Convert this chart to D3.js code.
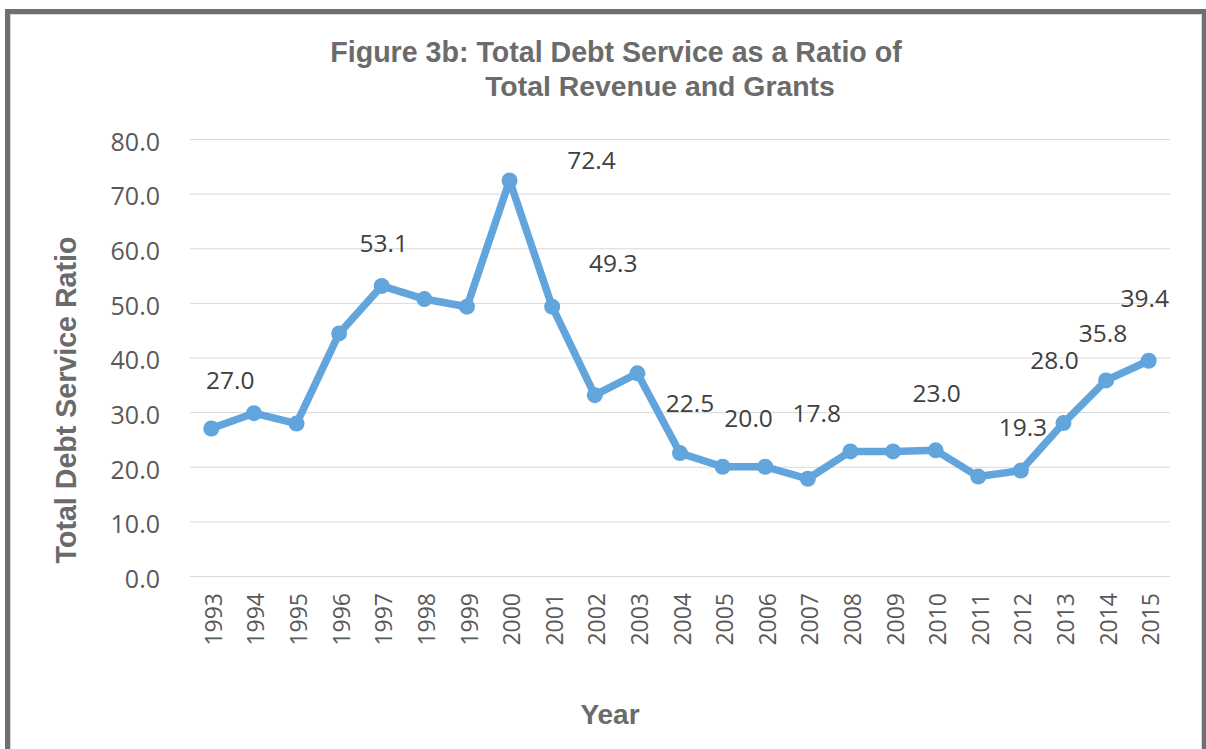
<!DOCTYPE html>
<html>
<head>
<meta charset="utf-8">
<script src="https://cdn.jsdelivr.net/npm/d3@7/dist/d3.min.js"></script>
<style>
  html, body { margin: 0; padding: 0; background: #fff; }
  svg { display: block; }
</style>
</head>
<body>
<svg id="chart" width="1206" height="749"></svg>
<script>
// ---- data ----
const years = ["1993","1994","1995","1996","1997","1998","1999","2000","2001","2002","2003","2004",
               "2005","2006","2007","2008","2009","2010","2011","2012","2013","2014","2015"];
const ratio = [27.0, 29.8, 27.9, 44.4, 53.1, 50.7, 49.3, 72.4, 49.3, 33.1, 37.1, 22.5,
               20.0, 20.0, 17.8, 22.8, 22.8, 23.0, 18.2, 19.3, 28.0, 35.8, 39.4];
const yTicks = [0, 10, 20, 30, 40, 50, 60, 70, 80];
const labelYears  = ["1993","1997","2000","2001","2004","2005","2007","2010","2012","2013","2014","2015"];
const labelValues = [27.0, 53.1, 72.4, 49.3, 22.5, 20.0, 17.8, 23.0, 19.3, 28.0, 35.8, 39.4];
const titleLines = ["Figure 3b: Total Debt Service as a Ratio of", "Total Revenue and Grants"];
const yTitle = "Total Debt Service Ratio";
const xTitle = "Year";

// ---- layout (label placement offsets, as in the original hand-moved labels) ----
const labelOffsets = {
  "1993": [19, -48], "1997": [2, -43], "2000": [82, -20], "2001": [61, -44],
  "2004": [10, -50], "2005": [26, -49], "2007": [9, -66], "2010": [1, -57],
  "2012": [2, -43], "2013": [-9, -63], "2014": [-3, -47], "2015": [-4, -63]
};

const svg = d3.select("#chart");
const W = 1206, H = 749;
const plot = { left: 190, right: 1170, top: 139, bottom: 576 };
const titleColor = "#6b6b6b";
const lineColor = "#62a4dc";
const numFont = "'Open Sans', 'Noto Sans', sans-serif";
const boldFont = "'Liberation Sans', Arial, sans-serif";

// outer frame
svg.append("rect").attr("x", 0).attr("y", 0).attr("width", W).attr("height", H).attr("fill", "#fff");
svg.append("rect")
  .attr("x", 7.5).attr("y", 11.5).attr("width", 1197).attr("height", 800)
  .attr("fill", "none").attr("stroke", "#6f6f72").attr("stroke-width", 5);
svg.append("rect")
  .attr("x", 10.5).attr("y", 14.5).attr("width", 1191).attr("height", 800)
  .attr("fill", "none").attr("stroke", "#d9d9d9").attr("stroke-width", 1);

const x = d3.scalePoint().domain(years).range([plot.left, plot.right]).padding(0.5);
const y = d3.scaleLinear().domain([0, 80]).range([plot.bottom, plot.top]);

// gridlines + y tick labels
const yAxis = d3.axisLeft(y).tickValues(yTicks).tickSize(-(plot.right - plot.left))
  .tickFormat(d3.format(".1f")).tickPadding(30);
const gy = svg.append("g").attr("transform", `translate(${plot.left},0)`).call(yAxis);
gy.select(".domain").remove();
gy.selectAll(".tick line").attr("stroke", "#d9d9d9").attr("stroke-width", 1);
gy.selectAll(".tick text")
  .attr("fill", "#595959").attr("font-family", numFont).attr("font-size", 25)
  .attr("dy", "0.45em");

// x axis labels
const xAxis = d3.axisBottom(x).tickSize(0).tickPadding(0);
const gx = svg.append("g").attr("transform", `translate(0,${plot.bottom})`).call(xAxis);
gx.select(".domain").remove();
gx.selectAll(".tick text")
  .attr("fill", "#595959").attr("font-family", numFont).attr("font-size", 23)
  .attr("text-anchor", "end")
  .attr("transform", "translate(2,17) rotate(-90)")
  .attr("x", 0).attr("y", 0).attr("dy", "0.35em");

// line
const line = d3.line().x((d, i) => x(years[i])).y(d => y(d));
svg.append("path").datum(ratio)
  .attr("d", line).attr("fill", "none")
  .attr("stroke", lineColor).attr("stroke-width", 7.5)
  .attr("stroke-linejoin", "round").attr("stroke-linecap", "round");
svg.selectAll("circle.pt").data(ratio).enter().append("circle")
  .attr("class", "pt")
  .attr("cx", (d, i) => x(years[i])).attr("cy", d => y(d)).attr("r", 8)
  .attr("fill", lineColor);

// data labels
svg.selectAll("text.lbl").data(labelYears).enter().append("text")
  .attr("class", "lbl")
  .attr("x", (d) => x(d) + labelOffsets[d][0])
  .attr("y", (d, i) => y(labelValues[i]) + labelOffsets[d][1])
  .attr("text-anchor", "middle").attr("dy", "0.36em")
  .attr("fill", "#404040").attr("font-family", numFont).attr("font-size", 24.5)
  .text((d, i) => d3.format(".1f")(labelValues[i]));

// titles
svg.append("text").attr("x", 616).attr("y", 52).attr("dy", "0.36em")
  .attr("text-anchor", "middle").attr("font-family", boldFont).attr("font-weight", "bold")
  .attr("font-size", 28.6).attr("fill", titleColor).text(titleLines[0]);
svg.append("text").attr("x", 660).attr("y", 86).attr("dy", "0.36em")
  .attr("text-anchor", "middle").attr("font-family", boldFont).attr("font-weight", "bold")
  .attr("font-size", 28.4).attr("fill", titleColor).text(titleLines[1]);

svg.append("text")
  .attr("transform", "translate(66,400) rotate(-90)")
  .attr("dy", "0.36em").attr("text-anchor", "middle")
  .attr("font-family", boldFont).attr("font-weight", "bold").attr("font-size", 28.6)
  .attr("fill", titleColor).text(yTitle);

svg.append("text").attr("x", 610).attr("y", 714).attr("dy", "0.36em")
  .attr("text-anchor", "middle").attr("font-family", boldFont).attr("font-weight", "bold")
  .attr("font-size", 28).attr("fill", titleColor).text(xTitle);
</script>
</body>
</html>
